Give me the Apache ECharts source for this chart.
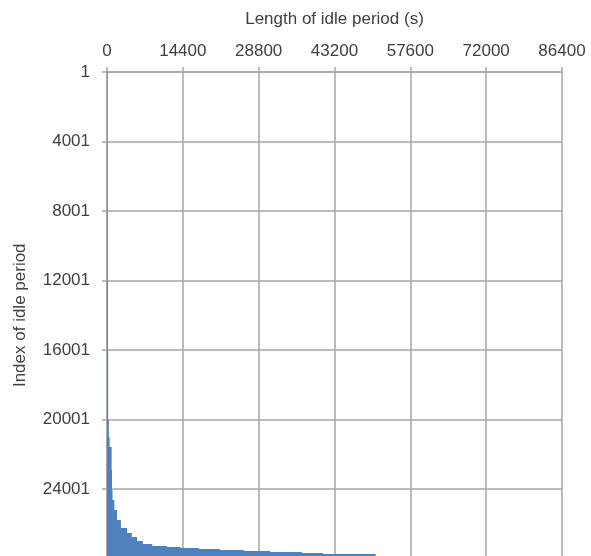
<!DOCTYPE html>
<html>
<head>
<meta charset="utf-8">
<script src="https://cdn.jsdelivr.net/npm/echarts@6/dist/echarts.min.js"></script>
<style>
html,body{margin:0;padding:0;background:#fff;overflow:hidden;}
#chart{width:591px;height:600px;}
</style>
</head>
<body>
<div id="chart"></div>
<script>
// Sorted idle periods, grouped in runs: each run starts at segStart (index of idle period)
// and has the length segLength (seconds). The last run ends at totalCount.
const segStart  = [1, 4001, 8001, 12001, 16001, 20001, 21000, 21580, 22900, 24057, 24633, 25209, 25784, 26245, 26532, 26762, 26992, 27165, 27280, 27366, 27424, 27481, 27539, 27596, 27654, 27711, 27769, 27830, 27870, 27910];
const segLength = [80, 100, 130, 170, 220, 350, 500, 880, 950, 1050, 1400, 1900, 2650, 3800, 4700, 5700, 6800, 8600, 11400, 14000, 17500, 21500, 26000, 31000, 37000, 41000, 51000, 58000, 70000, 84000];
const totalCount = 27950;
const xTicks = [0, 14400, 28800, 43200, 57600, 72000, 86400];
const yTickLabels = [1, 4001, 8001, 12001, 16001, 20001, 24001, 28001];

const runs = segStart.map((s, i) => [s, i + 1 < segStart.length ? segStart[i + 1] : totalCount, segLength[i]]);

const chart = echarts.init(document.getElementById('chart'), null, {renderer: 'canvas'});
const textColor = '#404040';
const gridColor = '#a6a6a6';
const font = 'Liberation Sans';

chart.setOption({
  animation: false,
  grid: {left: 107, top: 72, width: 455, height: 486.5, containLabel: false, outerBoundsMode: 'none'},
  xAxis: {
    type: 'value',
    position: 'top',
    min: xTicks[0],
    max: xTicks[xTicks.length - 1],
    interval: xTicks[1] - xTicks[0],
    name: 'Length of idle period (s)',
    nameLocation: 'middle',
    nameGap: 44,
    nameTextStyle: {color: textColor, fontSize: 17, fontFamily: font},
    axisLine: {show: true, lineStyle: {color: gridColor, width: 1.5}},
    axisTick: {show: true, inside: false, length: 5, lineStyle: {color: gridColor, width: 1.5}},
    axisLabel: {color: textColor, fontSize: 17, fontFamily: font, margin: 12, formatter: v => String(v)},
    splitLine: {show: true, lineStyle: {color: gridColor, width: 1.5}}
  },
  yAxis: {
    type: 'value',
    inverse: true,
    min: yTickLabels[0],
    max: yTickLabels[yTickLabels.length - 1],
    interval: yTickLabels[1] - yTickLabels[0],
    name: 'Index of idle period',
    nameLocation: 'middle',
    nameGap: 78,
    nameRotate: 90,
    nameTextStyle: {color: textColor, fontSize: 17, fontFamily: font},
    axisLine: {show: true, lineStyle: {color: gridColor, width: 1.5}},
    axisTick: {show: true, inside: false, length: 5, lineStyle: {color: gridColor, width: 1.5}},
    axisLabel: {color: textColor, fontSize: 17, fontFamily: font, margin: 17, showMaxLabel: false, formatter: v => String(v)},
    splitLine: {show: true, lineStyle: {color: gridColor, width: 1.5}}
  },
  series: [{
    type: 'custom',
    data: runs,
    encode: {x: 2, y: [0, 1]},
    clip: true,
    z: 3,
    renderItem: function (params, api) {
      const s = api.value(0), e = api.value(1), v = api.value(2);
      const p0 = api.coord([0, s]);
      const p1 = api.coord([v, e]);
      const y0 = Math.round(Math.min(p0[1], p1[1]));
      const y1 = Math.round(Math.max(p0[1], p1[1]));
      return {
        type: 'rect',
        shape: {x: p0[0], y: y0, width: p1[0] - p0[0], height: Math.max(y1 - y0, 1)},
        style: {fill: '#4f81bd'}
      };
    }
  }]
});
</script>
</body>
</html>
